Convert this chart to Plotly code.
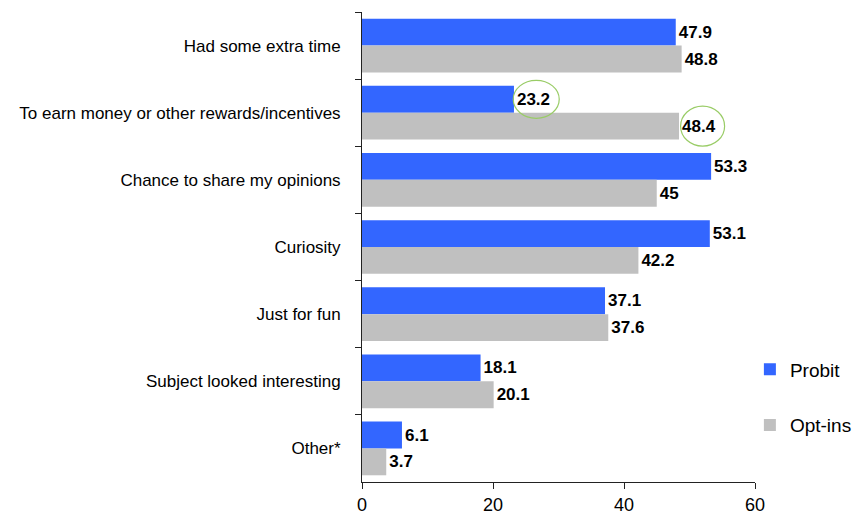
import plotly.graph_objects as go

categories = [
    "Had some extra time",
    "To earn money or other rewards/incentives",
    "Chance to share my opinions",
    "Curiosity",
    "Just for fun",
    "Subject looked interesting",
    "Other*",
]
probit = [47.9, 23.2, 53.3, 53.1, 37.1, 18.1, 6.1]
opt_ins = [48.8, 48.4, 45, 42.2, 37.6, 20.1, 3.7]
x_ticks = [0, 20, 40, 60]

BLUE = "#3366FF"
GREY = "#C0C0C0"
BASE_FONT = "Liberation Sans, Arial, Helvetica, sans-serif"

fig = go.Figure()
fig.add_trace(go.Bar(
    y=categories, x=probit, name="Probit", orientation="h",
    marker=dict(color=BLUE, line=dict(width=0)),
    text=[f"{v:g}" for v in probit], textposition="outside",
    textfont=dict(family=BASE_FONT, size=17, color="black", weight="bold"),
    cliponaxis=False, legendgroup="a",
))
fig.add_trace(go.Bar(
    y=categories, x=opt_ins, name="Opt-ins", orientation="h",
    marker=dict(color=GREY, line=dict(width=0)),
    text=[f"{v:g}" for v in opt_ins], textposition="outside",
    textfont=dict(family=BASE_FONT, size=17, color="black", weight="bold"),
    cliponaxis=False, legendgroup="b",
))

# green rings highlighting two of the value labels
for cx, cy, rx, ry in [(26.6, 0.8, 23, 19), (52.0, 1.2, 22, 20)]:
    fig.add_shape(
        type="circle", xref="x", yref="y",
        xsizemode="pixel", ysizemode="pixel",
        xanchor=cx, yanchor=cy,
        x0=-rx, x1=rx, y0=-ry, y1=ry,
        line=dict(color="#99CC66", width=1.2),
    )

fig.update_layout(
    width=854, height=523,
    margin=dict(l=362, r=99, t=12, b=41, autoexpand=False),
    paper_bgcolor="white", plot_bgcolor="white",
    barmode="group", bargap=0.2, bargroupgap=0,
    font=dict(family=BASE_FONT, color="black"),
    legend=dict(
        x=0.987, y=0.28, xanchor="left", yanchor="top",
        traceorder="grouped", tracegroupgap=28,
        font=dict(family=BASE_FONT, size=19, color="black"),
        itemwidth=30, bgcolor="rgba(0,0,0,0)",
    ),
    xaxis=dict(
        range=[0, 60], tickvals=x_ticks, ticktext=[str(t) for t in x_ticks],
        showgrid=False, zeroline=False, automargin=False,
        showline=True, linecolor="#222222", linewidth=1,
        ticks="outside", ticklen=6, tickcolor="#222222",
        tickfont=dict(family=BASE_FONT, size=18, color="black"),
    ),
    yaxis=dict(
        autorange="reversed", showgrid=False, zeroline=False, automargin=False,
        showline=True, linecolor="#222222", linewidth=1,
        ticks="outside", ticklen=6, tickcolor="#222222",
        tickson="boundaries", ticklabelstandoff=17,
        tickfont=dict(family=BASE_FONT, size=17, color="black"),
    ),
)

fig.write_html("out.html")
